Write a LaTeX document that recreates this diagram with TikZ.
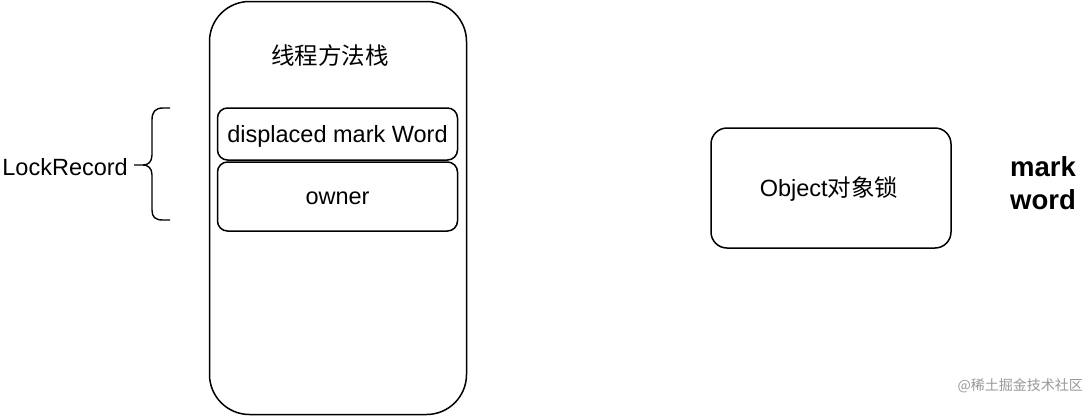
\documentclass[tikz,border=0pt]{standalone}
\usepackage{fontspec}
\setmainfont{Liberation Sans}
\newfontfamily\cjk{Noto Sans CJK SC}
\begin{document}
\begin{tikzpicture}[x=1pt,y=-1pt,
  box/.style={draw=black, line width=1.5pt, fill=white, inner sep=0pt},
  lbl/.style={font=\fontsize{23.5}{26}\selectfont, inner sep=0pt},
  bigtxt/.style={font=\bfseries\fontsize{27.5}{33}\selectfont, inner sep=0pt, align=center},
  wm/.style={font=\cjk\fontsize{14}{16}\selectfont, text=black!40, inner sep=0pt}]
\useasboundingbox[fill=white] (0,0) rectangle (1086,416);
% thread stack
\node[box, rounded corners=40pt, minimum width=257pt, minimum height=413pt] (stack) at (338,208) {};
\node[lbl, font=\cjk\fontsize{23.5}{26}\selectfont] (title) at (330,56) {线程方法栈};
\node[box, rounded corners=10pt, minimum width=240pt, minimum height=52pt] (dmw) at (337.5,134) {};
\node[lbl] (dmwt) at (337.5,136) {displaced mark Word};
\node[box, rounded corners=10pt, minimum width=240pt, minimum height=69pt] (own) at (337.5,196.5) {};
\node[lbl] (ownt) at (337.5,198.5) {owner};
% brace
\coordinate (btop) at (170,108);
\coordinate (bbot) at (170,220);
\coordinate (btip) at (134,165);
\draw[line width=1.4pt, line join=round]
  (btop) -- (163,108) .. controls (155,108) and (152,112) .. (152,120)
  -- (152,155) .. controls (152,162) and (148,165) .. (143,165) -- (btip)
  (btip) -- (143,165) .. controls (148,165) and (152,168) .. (152,175)
  -- (152,210) .. controls (152,217) and (155,220) .. (163,220) -- (bbot);
\node[lbl, anchor=east] (lr) at (128,167) {LockRecord};
% object
\node[box, rounded corners=16pt, minimum width=240pt, minimum height=120pt] (obj) at (831,188) {};
\node[lbl] (objt) at (829,189) {Object{\cjk 对象锁}};
\node[bigtxt] (mw) at (1043,183) {mark\\word};
\node[wm, anchor=east] (wmk) at (1083,386) {@稀土掘金技术社区};
\end{tikzpicture}
\end{document}
